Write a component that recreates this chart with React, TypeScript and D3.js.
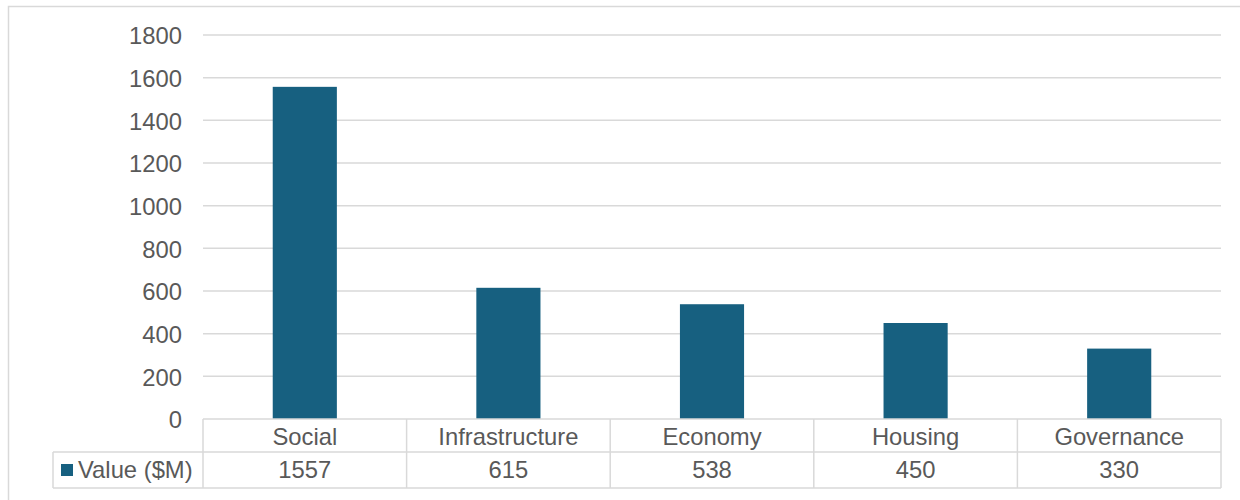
import React from "react";
import * as d3 from "d3";

const categories = ["Social", "Infrastructure", "Economy", "Housing", "Governance"];
const values = [1557, 615, 538, 450, 330];
const yTicks = [0, 200, 400, 600, 800, 1000, 1200, 1400, 1600, 1800];
const seriesName = "Value ($M)";

const W = 1240;
const H = 500;
const plotLeft = 203;
const plotRight = 1221;
const plotTop = 35;
const plotBottom = 419;
const rowMid = 452;
const tableBottom = 488;
const legendLeft = 53;

const barColor = "#176080";
const gridColor = "#d9d9d9";
const textColor = "#595959";
const font = "'Liberation Sans', Arial, sans-serif";
const fs = 23.8;

export default function App() {
  const x = d3.scaleBand<string>().domain(categories).range([plotLeft, plotRight]).padding(0);
  const xb = d3
    .scaleBand<string>()
    .domain(categories)
    .range([plotLeft, plotRight])
    .paddingInner(0.685)
    .paddingOuter(0.3425);
  const y = d3.scaleLinear().domain([0, 1800]).range([plotBottom, plotTop]);

  return (
    <svg
      width={W}
      height={H}
      style={{ position: "fixed", left: 0, top: 0, background: "#fff" }}
      fontFamily={font}
    >
      <rect x={8.5} y={6.5} width={W + 20} height={H + 20} fill="#fff" stroke={gridColor} strokeWidth={1.5} />
      {yTicks.map((t) => (
        <g key={t}>
          {t > 0 && (
            <line x1={plotLeft} x2={plotRight} y1={y(t)} y2={y(t)} stroke={gridColor} strokeWidth={1.5} />
          )}
          <text x={182} y={y(t) + 1} dy="0.35em" textAnchor="end" fontSize={fs} fill={textColor}>
            {t}
          </text>
        </g>
      ))}
      {categories.map((c, i) => (
        <rect
          key={c}
          x={xb(c)}
          y={y(values[i])}
          width={xb.bandwidth()}
          height={y(0) - y(values[i])}
          fill={barColor}
        />
      ))}
      {/* data table */}
      <g stroke={gridColor} strokeWidth={1.5} fill="none">
        <line x1={plotLeft} x2={plotRight} y1={plotBottom} y2={plotBottom} />
        <line x1={legendLeft} x2={plotRight} y1={rowMid} y2={rowMid} />
        <line x1={legendLeft} x2={plotRight} y1={tableBottom} y2={tableBottom} />
        <line x1={legendLeft} x2={legendLeft} y1={rowMid} y2={tableBottom} />
        {categories.map((c) => (
          <line key={c} x1={x(c)} x2={x(c)} y1={plotBottom} y2={tableBottom} />
        ))}
        <line x1={plotRight} x2={plotRight} y1={plotBottom} y2={tableBottom} />
      </g>
      {categories.map((c, i) => (
        <g key={c}>
          <text
            x={(x(c) as number) + x.bandwidth() / 2}
            y={(plotBottom + rowMid) / 2 + 1}
            dy="0.35em"
            textAnchor="middle"
            fontSize={fs}
            fill={textColor}
          >
            {c}
          </text>
          <text
            x={(x(c) as number) + x.bandwidth() / 2}
            y={(rowMid + tableBottom) / 2}
            dy="0.35em"
            textAnchor="middle"
            fontSize={fs}
            fill={textColor}
          >
            {values[i]}
          </text>
        </g>
      ))}
      <rect x={61} y={464} width={12} height={12} fill={barColor} />
      <text x={78} y={(rowMid + tableBottom) / 2} dy="0.35em" fontSize={fs} fill={textColor}>
        {seriesName}
      </text>
    </svg>
  );
}
